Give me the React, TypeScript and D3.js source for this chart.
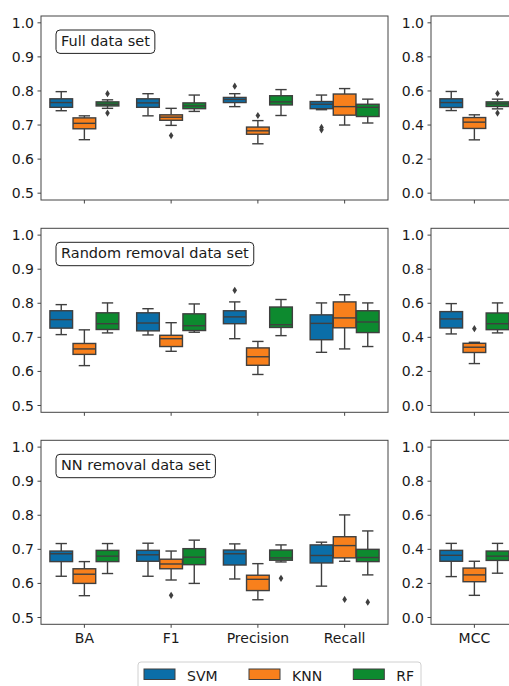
import React, { useLayoutEffect, useRef, useState } from "react";
import * as d3 from "d3";

// ---- data ----
const datasets = ["Full data set", "Random removal data set", "NN removal data set"];
const metricsLeft = ["BA", "F1", "Precision", "Recall"];
const metricsRight = ["MCC"];
const models = ["SVM", "KNN", "RF"];
const yTicksLeft = [0.5, 0.6, 0.7, 0.8, 0.9, 1.0];
const yTicksRight = [0.0, 0.2, 0.4, 0.6, 0.8, 1.0];

// each entry: [whiskerLow, q1, median, q3, whiskerHigh] for BA, F1, Precision, Recall, MCC
const fullSVM = [
  [0.742, 0.752, 0.766, 0.777, 0.798],
  [0.727, 0.752, 0.765, 0.777, 0.792],
  [0.754, 0.766, 0.775, 0.781, 0.792],
  [0.745, 0.748, 0.761, 0.769, 0.788],
  [0.485, 0.503, 0.532, 0.554, 0.597],
];
const fullKNN = [
  [0.657, 0.689, 0.705, 0.721, 0.727],
  [0.699, 0.714, 0.723, 0.73, 0.749],
  [0.645, 0.673, 0.683, 0.694, 0.713],
  [0.7, 0.729, 0.754, 0.791, 0.807],
  [0.313, 0.38, 0.417, 0.444, 0.46],
];
const fullRF = [
  [0.749, 0.756, 0.761, 0.768, 0.774],
  [0.74, 0.748, 0.756, 0.765, 0.788],
  [0.728, 0.759, 0.768, 0.786, 0.804],
  [0.706, 0.725, 0.752, 0.761, 0.776],
  [0.495, 0.509, 0.524, 0.536, 0.552],
];
const randSVM = [
  [0.708, 0.727, 0.752, 0.778, 0.796],
  [0.707, 0.719, 0.742, 0.772, 0.784],
  [0.696, 0.74, 0.76, 0.778, 0.804],
  [0.656, 0.693, 0.741, 0.766, 0.801],
  [0.42, 0.455, 0.508, 0.551, 0.598],
];
const randKNN = [
  [0.617, 0.65, 0.666, 0.682, 0.722],
  [0.659, 0.673, 0.696, 0.706, 0.743],
  [0.591, 0.618, 0.643, 0.669, 0.688],
  [0.666, 0.728, 0.757, 0.804, 0.825],
  [0.246, 0.311, 0.342, 0.365, 0.371],
];
const randRF = [
  [0.713, 0.723, 0.74, 0.772, 0.801],
  [0.715, 0.72, 0.734, 0.769, 0.798],
  [0.705, 0.729, 0.737, 0.789, 0.811],
  [0.673, 0.714, 0.745, 0.778, 0.801],
  [0.426, 0.445, 0.48, 0.543, 0.602],
];
const nnSVM = [
  [0.621, 0.664, 0.687, 0.695, 0.717],
  [0.621, 0.665, 0.684, 0.697, 0.718],
  [0.613, 0.654, 0.687, 0.698, 0.716],
  [0.592, 0.66, 0.682, 0.713, 0.721],
  [0.24, 0.33, 0.365, 0.394, 0.435],
];
const nnKNN = [
  [0.564, 0.6, 0.627, 0.643, 0.664],
  [0.61, 0.643, 0.657, 0.671, 0.695],
  [0.552, 0.579, 0.612, 0.624, 0.658],
  [0.665, 0.675, 0.711, 0.737, 0.801],
  [0.13, 0.21, 0.25, 0.29, 0.33],
];
const nnRF = [
  [0.629, 0.664, 0.68, 0.697, 0.717],
  [0.6, 0.655, 0.677, 0.702, 0.727],
  [0.663, 0.668, 0.675, 0.698, 0.713],
  [0.625, 0.664, 0.676, 0.7, 0.754],
  [0.26, 0.335, 0.36, 0.39, 0.435],
];

// outliers: [metric, model, value]
const fullOutliers: [string, string, number][] = [
  ["BA", "RF", 0.792], ["BA", "RF", 0.735], ["F1", "KNN", 0.669],
  ["Precision", "SVM", 0.814], ["Precision", "KNN", 0.728],
  ["Recall", "SVM", 0.693], ["Recall", "SVM", 0.686],
  ["MCC", "RF", 0.585], ["MCC", "RF", 0.47],
];
const randOutliers: [string, string, number][] = [
  ["Precision", "SVM", 0.838], ["MCC", "KNN", 0.451],
];
const nnOutliers: [string, string, number][] = [
  ["F1", "KNN", 0.565], ["Precision", "RF", 0.615],
  ["Recall", "KNN", 0.553], ["Recall", "RF", 0.545],
];

const rowStats = [
  { SVM: fullSVM, KNN: fullKNN, RF: fullRF },
  { SVM: randSVM, KNN: randKNN, RF: randRF },
  { SVM: nnSVM, KNN: nnKNN, RF: nnRF },
];
const rowOutliers = [fullOutliers, randOutliers, nnOutliers];

// ---- style ----
const colors: Record<string, string> = { SVM: "#0b6ea8", KNN: "#f8801c", RF: "#0d8a2f" };
const LINE = "#3f3f3f";
const FONT = "DejaVu Sans, Verdana, sans-serif";
const W = 509;
const H = 686;
const rowTops = [16, 228.3, 440.3];
const panelH = 184;
const leftX: [number, number] = [41, 388];
const rightX: [number, number] = [431, 517.75];

function TitleBox({ x, y, text }: { x: number; y: number; text: string }) {
  const ref = useRef<SVGTextElement>(null);
  const [w, setW] = useState(text.length * 8);
  useLayoutEffect(() => {
    if (ref.current) setW(ref.current.getComputedTextLength());
  }, [text]);
  return (
    <g>
      <rect x={x} y={y} width={w + 10} height={23.4} rx={4} ry={4} fill="white" stroke="#222" strokeWidth={1} />
      <text ref={ref} x={x + 5} y={y + 15.8} fontSize={14.5} fontFamily={FONT} fill="#1a1a1a">
        {text}
      </text>
    </g>
  );
}

function Diamond({ cx, cy }: { cx: number; cy: number }) {
  return <path d={`M${cx},${cy - 3.6}L${cx + 2.3},${cy}L${cx},${cy + 3.6}L${cx - 2.3},${cy}Z`} fill={LINE} />;
}

function Panel({
  row, metrics, xr, domain, ticks, showLabels, metricOffset,
}: {
  row: number; metrics: string[]; xr: [number, number]; domain: [number, number];
  ticks: number[]; showLabels: boolean; metricOffset: number;
}) {
  const top = rowTops[row];
  const y = d3.scaleLinear().domain(domain).range([top + panelH, top]);
  const x = d3.scaleBand().domain(metrics).range(xr).padding(0);
  const bw = x.bandwidth();
  const hue = d3.scaleBand().domain(models).range([0.1 * bw, 0.9 * bw]).padding(0);
  const boxW = hue.bandwidth() * 0.98;
  const stats = rowStats[row] as Record<string, number[][]>;
  const outs = rowOutliers[row].filter((o) => metrics.includes(o[0]));
  return (
    <g>
      {metrics.map((m, mi) =>
        models.map((md) => {
          const s = stats[md][mi + metricOffset];
          const cx = (x(m) as number) + (hue(md) as number) + hue.bandwidth() / 2;
          const [lo, q1, med, q3, hi] = s.map((v) => y(v));
          return (
            <g key={m + md}>
              <line x1={cx} x2={cx} y1={lo} y2={q1} stroke={LINE} strokeWidth={1.4} />
              <line x1={cx} x2={cx} y1={q3} y2={hi} stroke={LINE} strokeWidth={1.4} />
              <line x1={cx - boxW / 4} x2={cx + boxW / 4} y1={lo} y2={lo} stroke={LINE} strokeWidth={1.4} />
              <line x1={cx - boxW / 4} x2={cx + boxW / 4} y1={hi} y2={hi} stroke={LINE} strokeWidth={1.4} />
              <rect x={cx - boxW / 2} y={q3} width={boxW} height={q1 - q3} fill={colors[md]} stroke={LINE} strokeWidth={1.4} />
              <line x1={cx - boxW / 2} x2={cx + boxW / 2} y1={med} y2={med} stroke={LINE} strokeWidth={1.4} />
            </g>
          );
        })
      )}
      {outs.map((o, i) => {
        const cx = (x(o[0]) as number) + (hue(o[1]) as number) + hue.bandwidth() / 2;
        return <Diamond key={i} cx={cx} cy={y(o[2])} />;
      })}
      <rect x={xr[0]} y={top} width={xr[1] - xr[0]} height={panelH} fill="none" stroke="#444" strokeWidth={1} />
      {ticks.map((t) => (
        <g key={t}>
          <line x1={xr[0] - 3.5} x2={xr[0]} y1={y(t)} y2={y(t)} stroke="#444" strokeWidth={1} />
          <text x={xr[0] - 7} y={y(t)} dy="0.36em" textAnchor="end" fontSize={14} fontFamily={FONT} fill="#1a1a1a">
            {d3.format(".1f")(t)}
          </text>
        </g>
      ))}
      {metrics.map((m) => {
        const cx = (x(m) as number) + bw / 2;
        return (
          <g key={m}>
            <line x1={cx} x2={cx} y1={top + panelH} y2={top + panelH + 3.5} stroke="#444" strokeWidth={1} />
            {showLabels && (
              <text x={cx} y={top + panelH + 18.5} textAnchor="middle" fontSize={14} fontFamily={FONT} fill="#1a1a1a">
                {m}
              </text>
            )}
          </g>
        );
      })}
    </g>
  );
}

export default function App() {
  const legendX = [144, 249, 353.3];
  return (
    <div style={{ position: "absolute", left: 0, top: 0, width: W, height: H, background: "white" }}>
      <svg width={W} height={H} style={{ display: "block" }}>
        <rect width={W} height={H} fill="white" />
        {datasets.map((ds, r) => (
          <g key={ds}>
            <Panel row={r} metrics={metricsLeft} xr={leftX} domain={[0.48, 1.02]} ticks={yTicksLeft} showLabels={r === 2} metricOffset={0} />
            <Panel row={r} metrics={metricsRight} xr={rightX} domain={[-0.04, 1.04]} ticks={yTicksRight} showLabels={r === 2} metricOffset={4} />
            <TitleBox x={56} y={rowTops[r] + 14} text={ds} />
          </g>
        ))}
        <rect x={138} y={662} width={283} height={40} rx={3} fill="white" stroke="#d0d0d0" strokeWidth={1} />
        {models.map((m, i) => (
          <g key={m}>
            <rect x={legendX[i]} y={669} width={31} height={10.5} fill={colors[m]} stroke={LINE} strokeWidth={1} />
            <text x={legendX[i] + 43} y={681} fontSize={14} fontFamily={FONT} fill="#1a1a1a">
              {m}
            </text>
          </g>
        ))}
      </svg>
    </div>
  );
}
